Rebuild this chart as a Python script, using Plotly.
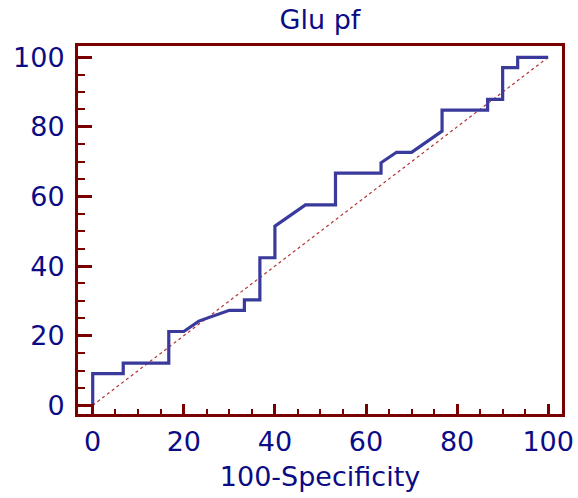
import plotly.graph_objects as go

# ROC curve: 100-Specificity vs Sensitivity
fpr = [0, 0, 6.7, 6.7, 16.7, 16.7, 20, 23.3, 30, 33.3, 33.3, 36.7, 36.7, 40, 40,
       46.7, 53.3, 53.3, 63.3, 63.3, 66.7, 70, 76.7, 76.7, 86.7, 86.7, 90, 90,
       93.3, 93.3, 100]
tpr = [0, 9.1, 9.1, 12.1, 12.1, 21.2, 21.2, 24.2, 27.3, 27.3, 30.3, 30.3, 42.4,
       42.4, 51.5, 57.6, 57.6, 66.7, 66.7, 69.7, 72.7, 72.7, 78.8, 84.8, 84.8,
       87.9, 87.9, 97, 97, 100, 100]
diag = [0, 100]
ticks = [0, 20, 40, 60, 80, 100]

NAVY = "#0b0b85"
MAROON = "#7a0000"
FONT = "DejaVu Sans"

fig = go.Figure()
fig.add_trace(go.Scatter(x=diag, y=diag, mode="lines",
                         line=dict(color="#b33333", width=1.2, dash="dot"),
                         hoverinfo="skip"))
fig.add_trace(go.Scatter(x=fpr, y=tpr, mode="lines",
                         line=dict(color="#3a3a9c", width=3.2)))

axis_common = dict(
    showline=True, mirror=True, linecolor=MAROON, linewidth=3,
    showgrid=False, zeroline=False, ticks="inside", tickcolor=MAROON,
    tickwidth=2.5, tickvals=ticks, automargin=False,
    tickfont=dict(family=FONT, size=27, color=NAVY),
)

fig.update_layout(
    width=578, height=498,
    margin=dict(l=78, r=16, t=46, b=84),
    paper_bgcolor="white", plot_bgcolor="white",
    showlegend=False,
    title=dict(text="Glu pf", x=0.5, xref="paper", y=1 - 20 / 498,
               yref="container", yanchor="middle",
               font=dict(family=FONT, size=27, color=NAVY)),
    xaxis=dict(axis_common, range=[-3.23, 103.03], ticklen=10,
               minor=dict(ticks="inside", dtick=5, tick0=0, ticklen=5,
                          tickwidth=2, tickcolor=MAROON),
               ticklabelstandoff=2,
               title=dict(text="100-Specificity", standoff=11,
                          font=dict(family=FONT, size=27, color=NAVY))),
    yaxis=dict(axis_common, range=[-2.5, 103.24], ticklen=14,
               minor=dict(ticks="inside", dtick=5, tick0=0, ticklen=7,
                          tickwidth=2, tickcolor=MAROON),
               ticklabelstandoff=5),
)

# drop the default page margin so the figure sits at the window corner
fig.write_html("out.html", config={"displayModeBar": False},
               post_script="document.body.style.margin = '0';")
